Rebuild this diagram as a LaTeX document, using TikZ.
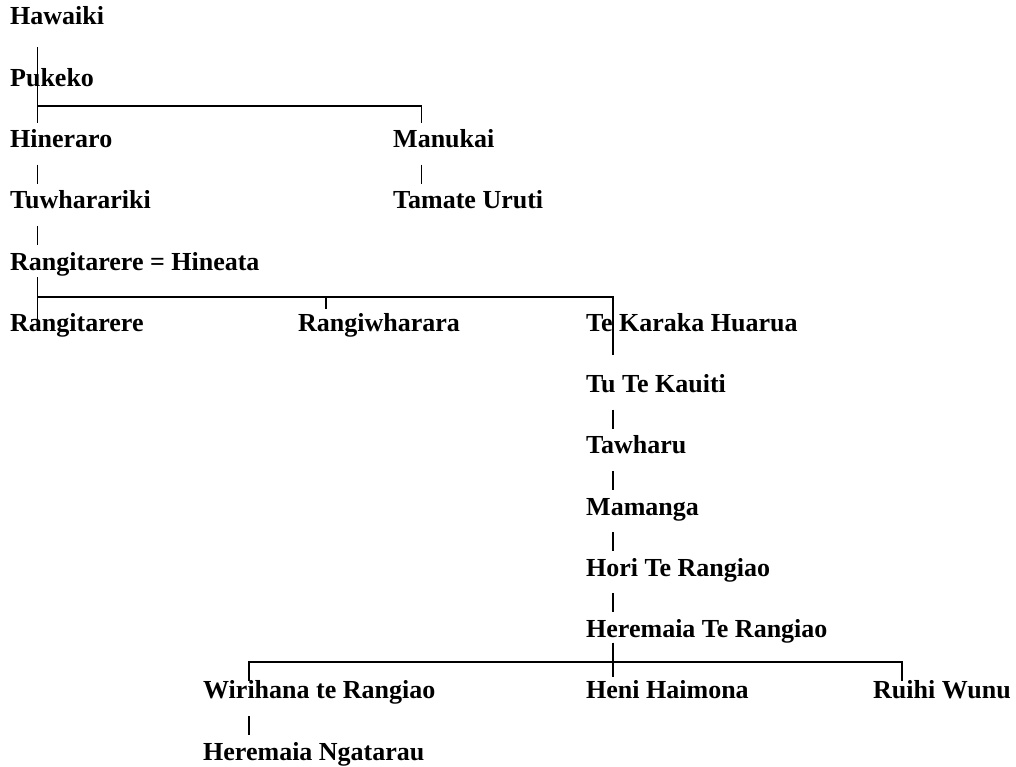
\documentclass[tikz,border=0pt]{standalone}
\usepackage{fontspec}
\setmainfont{Liberation Serif}
\usetikzlibrary{calc}

\begin{document}
\begin{tikzpicture}[x=1pt, y=-1pt,
  person/.style={anchor=base west, inner sep=0pt, text height=18pt, text depth=5pt,
    font=\bfseries\fontsize{26}{30}\selectfont},
  link/.style={line width=1.3pt},
  gap/.style={link, shorten <=12pt, shorten >=7pt}]
\useasboundingbox (0,0) rectangle (1016,767);

% people, one row every 61.25
\node[person] (hawaiki) at (10,25) {Hawaiki};
\node[person] (pukeko) at (10,86.25) {Pukeko};
\node[person] (hineraro) at (10,147.5) {Hineraro};
\node[person] (manukai) at (393,147.5) {Manukai};
\node[person] (tuwhara) at (10,208.75) {Tuwharariki};
\node[person] (tamate) at (393,208.75) {Tamate Uruti};
\node[person] (rangihine) at (10,270) {Rangitarere = Hineata};
\node[person] (rangitarere) at (10,331.25) {Rangitarere};
\node[person] (rangiwh) at (298,331.25) {Rangiwharara};
\node[person] (tekaraka) at (586,331.25) {Te Karaka Huarua};
\node[person] (tukauiti) at (586,392.5) {Tu Te Kauiti};
\node[person] (tawharu) at (586,453.75) {Tawharu};
\node[person] (mamanga) at (586,515) {Mamanga};
\node[person] (hori) at (586,576.25) {Hori Te Rangiao};
\node[person] (heremaia) at (586,637.5) {Heremaia Te Rangiao};
\node[person] (wirihana) at (203,698.75) {Wirihana te Rangiao};
\node[person] (heni) at (586,698.75) {Heni Haimona};
\node[person] (ruihi) at (873,698.75) {Ruihi Wunu};
\node[person] (ngatarau) at (203,760) {Heremaia Ngatarau};

% line columns and bars
\coordinate (colA) at (37.7,0);
\coordinate (colB) at (421.7,0);
\coordinate (colR) at (326,0);
\coordinate (colC) at (613,0);
\coordinate (colW) at (249,0);
\coordinate (colE) at (902,0);
\coordinate (barone) at (37.7,106);
\coordinate (bartwo) at (37.7,297);
\coordinate (barthree) at (613,662);

\draw[link, shorten <=17pt, shorten >=6.5pt] (hawaiki.south -| colA) -- (hineraro.north -| colA);
\draw[link, shorten >=6.5pt] (barone) -| (manukai.north -| colB);
\draw[gap] (hineraro.south -| colA) -- (tuwhara.north -| colA);
\draw[gap] (manukai.south -| colB) -- (tamate.north -| colB);
\draw[gap] (tuwhara.south -| colA) -- (rangihine.north -| colA);

\draw[link, shorten <=2pt] (rangihine.south -| colA) -- ([yshift=-6.75pt]rangitarere.north -| colA);
\draw[link] (bartwo) -- (bartwo -| colC) -- ([yshift=-19pt]tekaraka.south -| colC);
\draw[link] (bartwo -| colR) -- ([yshift=4pt]rangiwh.north -| colR);

\draw[gap] (tukauiti.south -| colC) -- (tawharu.north -| colC);
\draw[gap] (tawharu.south -| colC) -- (mamanga.north -| colC);
\draw[gap] (mamanga.south -| colC) -- (hori.north -| colC);
\draw[gap] (hori.south -| colC) -- (heremaia.north -| colC);

\draw[link, shorten >=4pt] (heremaia.south -| colC) -- (heni.north -| colC);
\draw[link] (wirihana.north -| colW) |- (barthree) -| (ruihi.north -| colE);
\draw[gap] (wirihana.south -| colW) -- (ngatarau.north -| colW);
\end{tikzpicture}
\end{document}
